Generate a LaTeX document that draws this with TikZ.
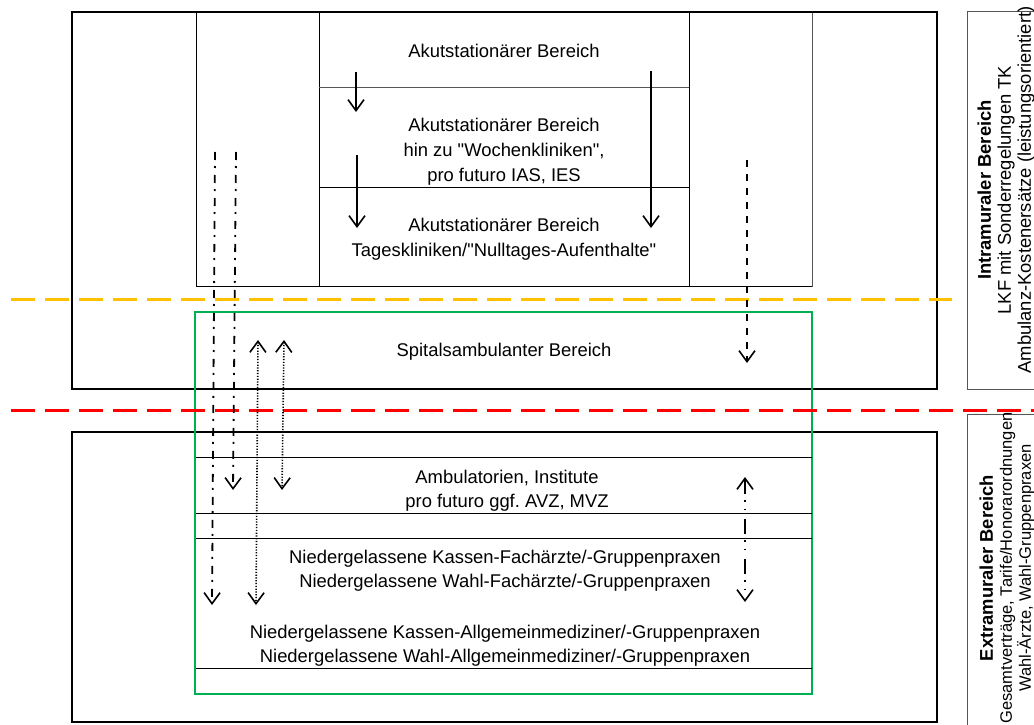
\documentclass[tikz,border=0pt]{standalone}
\usepackage{fontspec}
\setmainfont{Liberation Sans}[Ligatures=TeXOff]
\usetikzlibrary{arrows.meta}
\definecolor{orangeL}{HTML}{FFC000}
\definecolor{greenL}{HTML}{00B050}
\definecolor{redL}{HTML}{FF0000}
\definecolor{grayL}{HTML}{555555}
\frenchspacing
\begin{document}
\begin{tikzpicture}[x=1pt,y=-1pt,
  txt/.style={font=\fontsize{18.4}{25}\selectfont, align=center, inner sep=0pt},
  side/.style={font=\fontsize{18.4}{20}\selectfont, align=center, inner sep=0pt, rotate=90},
  thick box/.style={draw=black, line width=2pt},
  thin line/.style={draw=black, line width=1pt},
  sep line/.style={line width=3pt, dash pattern=on 24pt off 10pt},
  arr/.style={line width=1.8pt, -{Straight Barb[length=11pt,width=16pt,line width=1.6pt]}},
  darr/.style={line width=1.6pt, {Straight Barb[length=11pt,width=16pt,line width=1.6pt]}-{Straight Barb[length=11pt,width=16pt,line width=1.6pt]}},
  dashdot/.style={dash pattern=on 8pt off 6pt on 2pt off 7pt},
  dashdotdot/.style={dash pattern=on 15pt off 6pt on 1.5pt off 7pt on 1.5pt off 9pt},
  dotline/.style={dash pattern=on 1.2pt off 1.6pt},
  dashline/.style={dash pattern=on 7pt off 7pt}]
\useasboundingbox (0,0) rectangle (1034,725);
\clip (0,0) rectangle (1034,725);
\fill[white] (0,0) rectangle (1034,725);

% outer boxes
\draw[thick box] (72,12) rectangle (937,389);
\draw[thick box] (72,432) rectangle (937,722);
% inner upper box
\draw[thin line, draw=grayL] (196,12) rectangle (812,286);
\draw[thin line] (196,12) -- (196,286) -- (812,286);
\draw[thin line] (319,12) rectangle (689,286);
\draw[thin line, draw=grayL] (319,88) -- (689,88);
\draw[thin line] (319,187) -- (689,187);
\draw[thick box] (72,12) -- (937,12);
% green box
\draw[draw=greenL, line width=1.6pt] (195,312) rectangle (812,694);
% lower lines
\draw[thin line] (196,457) -- (812,457);
\draw[thin line] (196,513) -- (812,513);
\draw[thin line] (196,538) -- (812,538);
\draw[thin line] (196,668) -- (812,668);
% right label boxes
\draw[draw=grayL, line width=1pt] (1040,12) -- (967,12) -- (967,389) -- (1040,389);
\draw[draw=grayL, line width=1pt] (1040,414) -- (967,414) -- (967,730);

% texts
\node[txt] (t1) at (504,51) {Akutstationärer Bereich};
\node[txt] (t2) at (504,152) {Akutstationärer Bereich\\hin zu "Wochenkliniken",\\pro futuro IAS, IES};
\node[txt] (t3) at (504,239) {Akutstationärer Bereich\\Tageskliniken/"Nulltages-Aufenthalte"};
\node[txt] (t4) at (504,352) {Spitalsambulanter Bereich};
\node[txt, font=\fontsize{18.4}{24}\selectfont] (t5) at (507,491) {Ambulatorien, Institute\\pro futuro ggf. AVZ, MVZ};
\node[txt, font=\fontsize{18.4}{24}\selectfont] (t6) at (505,571) {Niedergelassene Kassen-Fachärzte/-Gruppenpraxen\\Niedergelassene Wahl-Fachärzte/-Gruppenpraxen};
\node[txt, font=\fontsize{18.4}{24}\selectfont] (t7) at (505,646) {Niedergelassene Kassen-Allgemeinmediziner/-Gruppenpraxen\\Niedergelassene Wahl-Allgemeinmediziner/-Gruppenpraxen};

\node[side] (intra) at (1006,190) {\textbf{Intramuraler Bereich}\\LKF mit Sonderregelungen TK\\Ambulanz-Kostenersätze (leistungsorientiert)};
\node[side, font=\fontsize{16.5}{19}\selectfont] (extra) at (1007,568) {{\fontsize{18.4}{19}\selectfont\textbf{Extramuraler Bereich}}\\Gesamtverträge, Tarife/Honorarordnungen\\Wahl-Ärzte, Wahl-Gruppenpraxen};

% separator lines
\coordinate (oL) at (11,299); \coordinate (oR) at (952,299);
\coordinate (rL) at (11,410); \coordinate (rR) at (1040,410);
\draw[sep line, draw=orangeL] (oL) -- (oR);
\draw[sep line, draw=redL] (rL) -- (rR);

% arrow end points
\coordinate (s1a) at (356,72);  \coordinate (s1b) at (356,112);
\coordinate (s2a) at (357,155); \coordinate (s2b) at (357,228);
\coordinate (s3a) at (651,71);  \coordinate (s3b) at (651,228);
\coordinate (a1a) at (215,152); \coordinate (a1b) at (212,605);
\coordinate (a2a) at (236,152); \coordinate (a2b) at (233,490);
\coordinate (a3a) at (258,340); \coordinate (a3b) at (256,605);
\coordinate (a4a) at (284,340); \coordinate (a4b) at (282,490);
\coordinate (a5a) at (747,160); \coordinate (a5b) at (747,363);
\coordinate (a6a) at (745,477); \coordinate (a6b) at (745,602);

\draw[arr] (s1a) -- (s1b);
\draw[arr] (s2a) -- (s2b);
\draw[arr] (s3a) -- (s3b);
\draw[arr, dashdot] (a1a) -- (a1b);
\draw[arr, dashdot] (a2a) -- (a2b);
\draw[darr, dotline] (a3a) -- (a3b);
\draw[darr, dotline] (a4a) -- (a4b);
\draw[arr, dashline] (a5a) -- (a5b);
\draw[darr, dashdotdot] (a6a) -- (a6b);
\end{tikzpicture}
\end{document}
